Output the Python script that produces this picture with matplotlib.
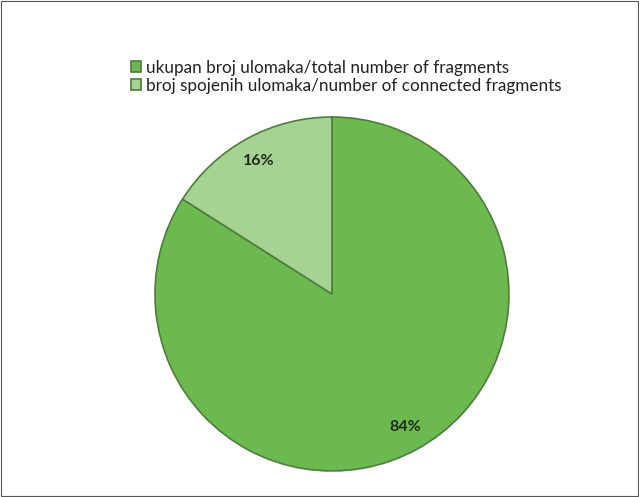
import matplotlib.pyplot as plt
from matplotlib.patches import Rectangle

labels = ["ukupan broj ulomaka/total number of fragments",
          "broj spojenih ulomaka/number of connected fragments"]
shares = [84, 16]
colors = ["#6cba4f", "#a6d394"]


def main():
    fig = plt.figure(figsize=(6.39, 4.97), dpi=100)
    fig.patches.append(Rectangle((0.002, 0.002), 0.996, 0.996, transform=fig.transFigure,
                                 fill=False, edgecolor="#555555", linewidth=0.8))
    ax = fig.add_axes([0.2425, 0.0524, 0.5540, 0.7122])
    wedges, texts, autotexts = ax.pie(
        shares, colors=colors, startangle=90, counterclock=False,
        autopct="%1.0f%%", pctdistance=0.86,
        wedgeprops=dict(edgecolor="#4e7d3c", linewidth=1.2),
        textprops=dict(fontsize=11.5, color="#1f2a1a", family="Lato", weight="bold"))
    ax.set_xlim(-1, 1)
    ax.set_ylim(-1, 1)
    ax.set_aspect("equal")
    leg = fig.legend(wedges, labels, loc="upper left", bbox_to_anchor=(0.192, 0.897),
                     frameon=False, prop=dict(family="Lato", size=12.3),
                     handlelength=0.6, handleheight=0.6, handletextpad=0.25,
                     labelspacing=0.12, borderpad=0)
    for t in leg.get_texts():
        t.set_color("#222222")
    fig.savefig("out.png", dpi=100)


if __name__ == '__main__':
    main()
